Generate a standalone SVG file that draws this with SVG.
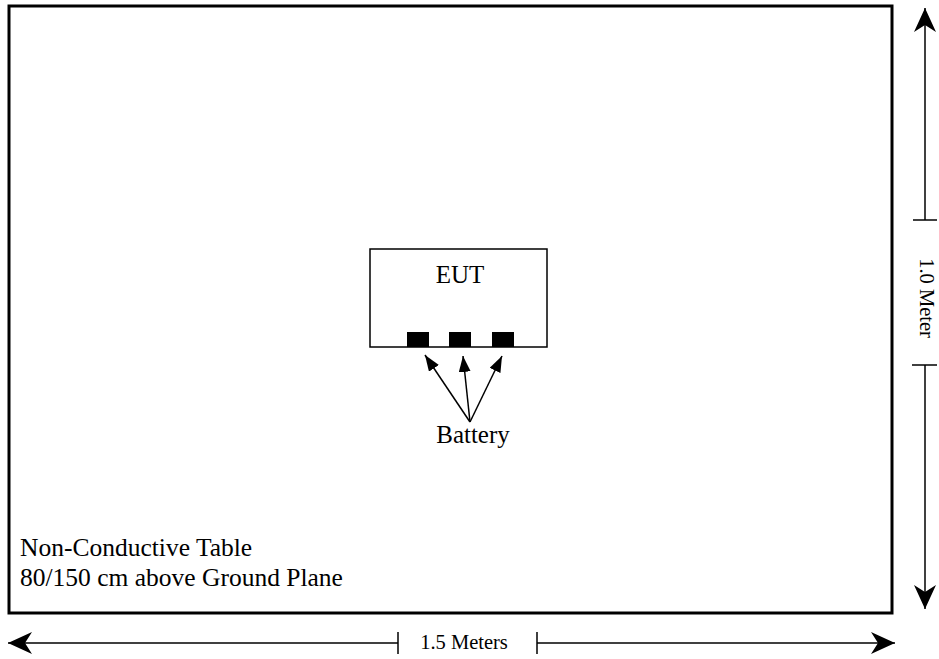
<svg xmlns="http://www.w3.org/2000/svg" width="939" height="659" viewBox="0 0 939 659">
<style>
  .t { font-family: "Liberation Serif", "Times New Roman", serif; fill: #000; }
  .big { font-size: 25px; }
  .lbl { font-size: 25.5px; }
  .dim { font-size: 20.5px; }
  .line { stroke: #000; stroke-width: 1.5; fill: none; }
</style>
<defs>
  <marker id="barb" viewBox="0 0 24 22" refX="24" refY="11" markerWidth="24" markerHeight="22" markerUnits="userSpaceOnUse" orient="auto">
    <path d="M24,11 L0,0 L7,11 L0,22 Z" fill="#000"/>
  </marker>
  <marker id="tri" viewBox="0 0 16 12" refX="16" refY="6" markerWidth="16" markerHeight="12" markerUnits="userSpaceOnUse" orient="auto">
    <path d="M16,6 L0,0 L0,12 Z" fill="#000"/>
  </marker>
</defs>
<rect width="939" height="659" fill="#fff"/>
<g id="table">
  <rect x="9" y="6" width="883" height="607" fill="none" stroke="#000" stroke-width="3"/>
  <text class="t lbl" x="20" y="556">Non-Conductive Table</text>
  <text class="t lbl" x="20" y="586">80/150 cm above Ground Plane</text>
</g>
<g id="eut">
  <rect x="370" y="249" width="177" height="98" fill="#fff" stroke="#000" stroke-width="1.5"/>
  <text class="t big" x="460" y="283" text-anchor="middle">EUT</text>
</g>
<g id="batteries">
  <rect x="407" y="332" width="22" height="15" fill="#000"/>
  <rect x="449" y="332" width="22" height="15" fill="#000"/>
  <rect x="492" y="332" width="22" height="15" fill="#000"/>
  <text class="t big" x="473" y="443" text-anchor="middle">Battery</text>
</g>
<g id="connectors">
  <line class="line" x1="470" y1="422" x2="425" y2="355" marker-end="url(#tri)"/>
  <line class="line" x1="470" y1="422" x2="463" y2="356" marker-end="url(#tri)"/>
  <line class="line" x1="470" y1="422" x2="502" y2="356" marker-end="url(#tri)"/>
</g>
<g id="dim-height">
  <line class="line" x1="925" y1="220" x2="925" y2="8" marker-end="url(#barb)"/>
  <line class="line" x1="913" y1="220" x2="937" y2="220"/>
  <line class="line" x1="925" y1="365" x2="925" y2="609" marker-end="url(#barb)"/>
  <line class="line" x1="912" y1="365" x2="937" y2="365"/>
  <text class="t dim" transform="translate(920,298) rotate(90)" text-anchor="middle">1.0 Meter</text>
</g>
<g id="dim-width">
  <line class="line" x1="398" y1="643" x2="8" y2="643" marker-end="url(#barb)"/>
  <line class="line" x1="398" y1="632" x2="398" y2="654"/>
  <line class="line" x1="537" y1="643" x2="895" y2="643" marker-end="url(#barb)"/>
  <line class="line" x1="537" y1="632" x2="537" y2="654"/>
  <text class="t dim" x="464" y="649" text-anchor="middle">1.5 Meters</text>
</g>
</svg>
